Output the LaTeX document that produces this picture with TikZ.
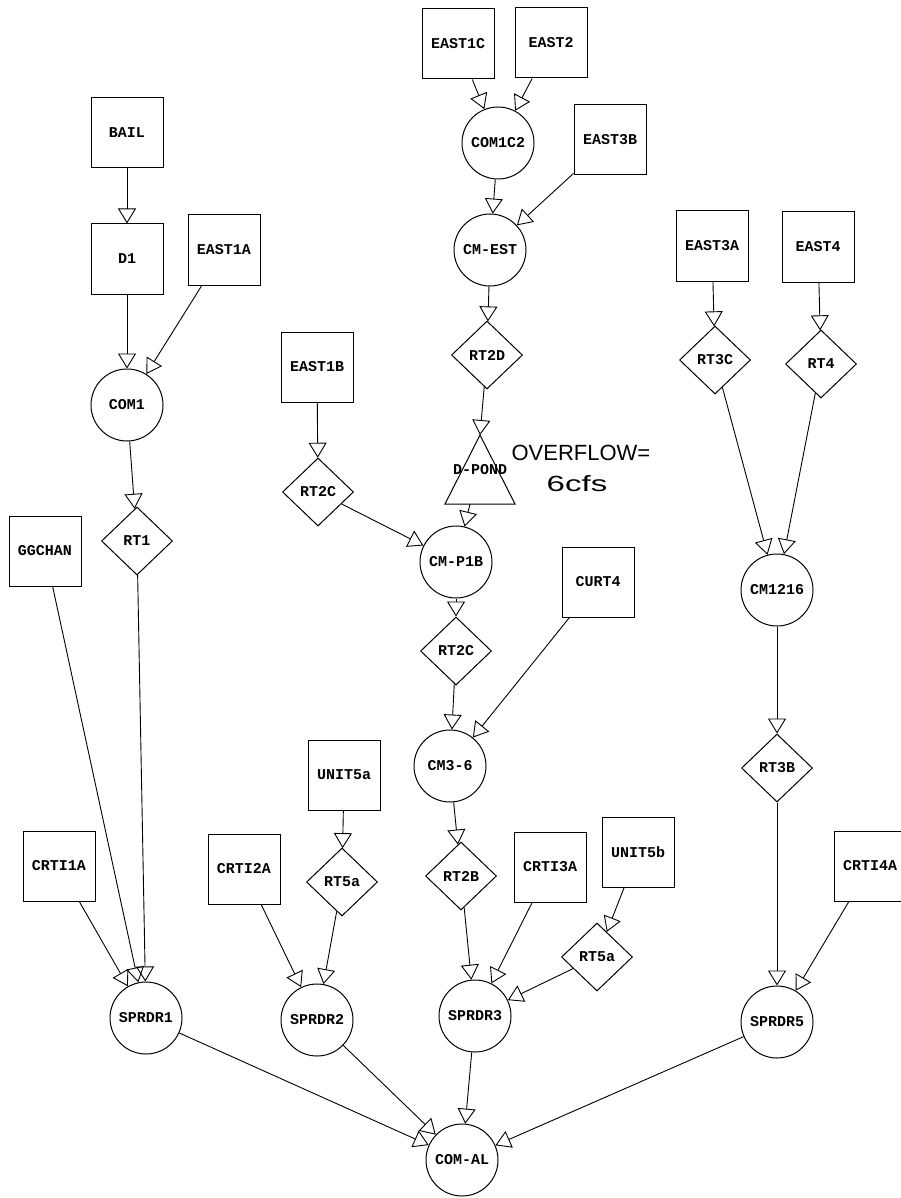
\documentclass[tikz,border=0pt]{standalone}
\usepackage{fontspec}
\setmonofont{Liberation Mono}
\setsansfont{Liberation Sans}
\usetikzlibrary{shapes.geometric,arrows.meta}
\tikzset{
  lbl/.style={font=\ttfamily\bfseries\fontsize{15}{17}\selectfont},
  boxnode/.style={lbl, draw, line width=1pt, minimum width=72pt, minimum height=70pt, inner sep=0pt},
  circnode/.style={lbl, draw, circle, line width=1pt, minimum size=72pt, inner sep=0pt},
  dianode/.style={lbl, draw, diamond, line width=1pt, minimum width=71pt, minimum height=68pt, inner sep=0pt},
  flow/.style={line width=0.9pt, -{Triangle[open, length=15pt, width=18pt, line width=0.9pt]}},
  hand/.style={font=\sffamily\fontsize{22}{24}\selectfont},
}
\begin{document}
\begin{tikzpicture}[x=1pt,y=-1pt]
\useasboundingbox[fill=white] (0,0) rectangle (900,1198);
% left column
\node[boxnode] (bail) at (127,133) {BAIL};
\node[boxnode] (d1) at (127,259) {D1};
\node[boxnode] (east1a) at (224,250) {EAST1A};
\node[circnode] (com1) at (127,405) {COM1};
\node[dianode] (rt1) at (137,541) {RT1};
\node[boxnode] (ggchan) at (45,551) {GGCHAN};
\node[boxnode] (crti1a) at (59,866) {CRTI1A};
\node[circnode] (sprdr1) at (146,1018) {SPRDR1};
% left-middle
\node[boxnode] (east1b) at (317,367) {EAST1B};
\node[dianode] (rt2cl) at (318,492) {RT2C};
\node[boxnode] (unit5a) at (344,775) {UNIT5a};
\node[dianode] (rt5al) at (342,882) {RT5a};
\node[boxnode] (crti2a) at (244,869) {CRTI2A};
\node[circnode] (sprdr2) at (317,1020) {SPRDR2};
% centre column
\node[boxnode] (east1c) at (458,44) {EAST1C};
\node[boxnode] (east2) at (551,43) {EAST2};
\node[circnode] (com1c2) at (498,143) {COM1C2};
\node[boxnode] (east3b) at (610,140) {EAST3B};
\node[circnode] (cmest) at (490,250) {CM-EST};
\node[dianode] (rt2d) at (487,355) {RT2D};
\coordinate (dptop) at (480,435);
\coordinate (dpbl) at (445,504);
\coordinate (dpbr) at (515,504);
\coordinate (dpout) at (470,504);
\draw[line width=1pt] (dptop) -- (dpbr) -- (dpbl) -- cycle;
\node[lbl] (dpond) at (480,470) {D-POND};
\node[hand, anchor=west] (ovf) at (508,453) {OVERFLOW=};
\node[hand] (cfs) at (577,484) {\scalebox{1.5}[1]{6cfs}};
\node[circnode] (cmp1b) at (456,562) {CM-P1B};
\node[dianode] (rt2cc) at (456,651) {RT2C};
\node[boxnode] (curt4) at (598,582) {CURT4};
\node[circnode] (cm36) at (450,766) {CM3-6};
\node[dianode] (rt2b) at (461,876) {RT2B};
\node[boxnode] (crti3a) at (550,867) {CRTI3A};
\node[boxnode] (unit5b) at (638,852) {UNIT5b};
\node[dianode] (rt5ar) at (597,957) {RT5a};
\node[circnode] (sprdr3) at (475,1016) {SPRDR3};
\node[circnode] (comal) at (462,1160) {COM-AL};
% right column
\node[boxnode] (east3a) at (712,246) {EAST3A};
\node[boxnode] (east4) at (818,247) {EAST4};
\node[dianode] (rt3c) at (715,360) {RT3C};
\node[dianode] (rt4) at (821,364) {RT4};
\node[circnode] (cm1216) at (777,590) {CM1216};
\node[dianode] (rt3b) at (777,768) {RT3B};
\node[boxnode] (crti4a) at (870,866) {CRTI4A};
\node[circnode] (sprdr5) at (777,1022) {SPRDR5};
% connectors
\draw[flow] (bail) -- (d1);
\draw[flow] (d1) -- (com1);
\draw[flow] (east1a) -- (com1);
\draw[flow] (com1) -- (rt1);
\draw[flow] (rt1) -- (sprdr1);
\draw[flow] (ggchan) -- (sprdr1);
\draw[flow] (crti1a) -- (sprdr1);
\draw[flow] (sprdr1) -- (comal);
\draw[flow] (east1b) -- (rt2cl);
\draw[flow] (rt2cl) -- (cmp1b);
\draw[flow] (unit5a) -- (rt5al);
\draw[flow] (rt5al) -- (sprdr2);
\draw[flow] (crti2a) -- (sprdr2);
\draw[flow] (sprdr2) -- (comal);
\draw[flow] (east1c) -- (com1c2);
\draw[flow] (east2) -- (com1c2);
\draw[flow] (com1c2) -- (cmest);
\draw[flow] (east3b) -- (cmest);
\draw[flow] (cmest) -- (rt2d);
\draw[flow] (rt2d) -- (dptop);
\draw[flow] (dpout) -- (cmp1b);
\draw[flow] (cmp1b) -- (rt2cc);
\draw[flow] (rt2cc) -- (cm36);
\draw[flow] (curt4) -- (cm36);
\draw[flow] (cm36) -- (rt2b);
\draw[flow] (rt2b) -- (sprdr3);
\draw[flow] (crti3a) -- (sprdr3);
\draw[flow] (unit5b) -- (rt5ar);
\draw[flow] (rt5ar) -- (sprdr3);
\draw[flow] (sprdr3) -- (comal);
\draw[flow] (east3a) -- (rt3c);
\draw[flow] (east4) -- (rt4);
\draw[flow] (rt3c) -- (cm1216);
\draw[flow] (rt4) -- (cm1216);
\draw[flow] (cm1216) -- (rt3b);
\draw[flow] (rt3b) -- (sprdr5);
\draw[flow] (crti4a) -- (sprdr5);
\draw[flow] (sprdr5) -- (comal);
\end{tikzpicture}
\end{document}
